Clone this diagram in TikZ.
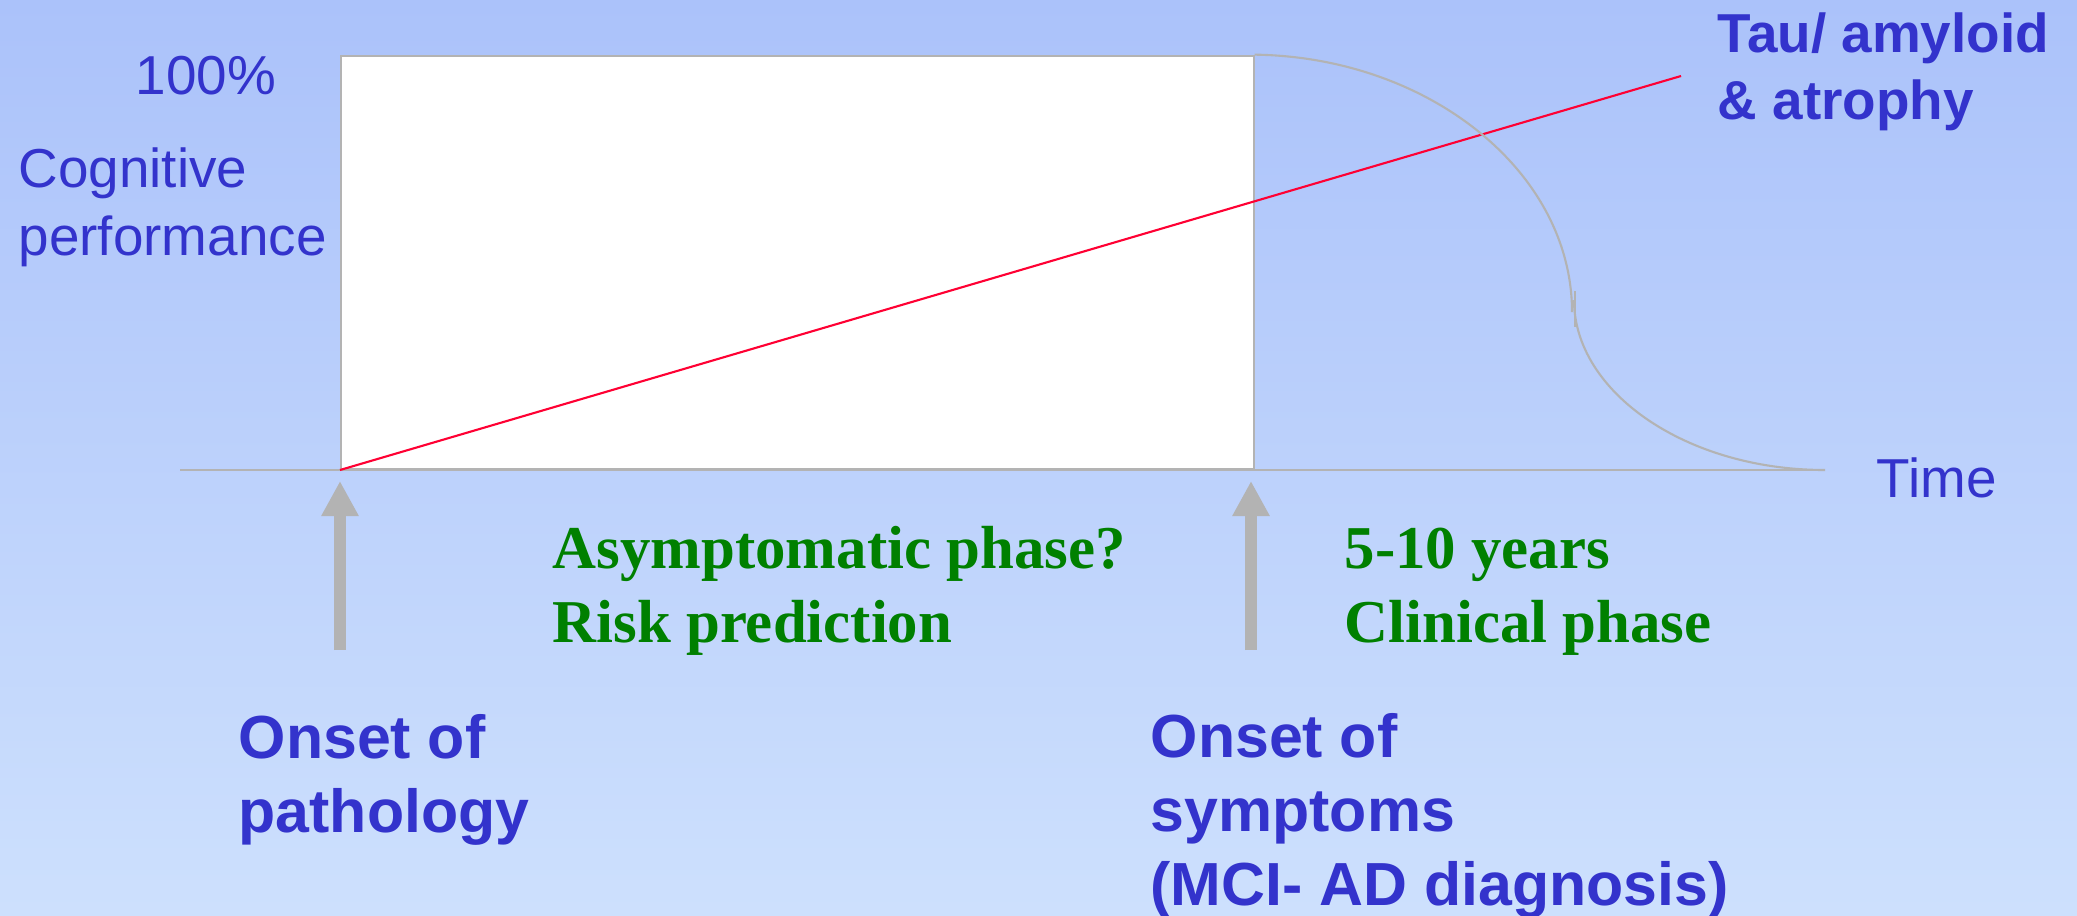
\documentclass[tikz,border=0pt]{standalone}
\usepackage{fontspec}
\setmainfont{Liberation Sans}
\newfontfamily\timesfont{Liberation Serif}
\usetikzlibrary{arrows.meta}
\definecolor{txtblue}{RGB}{51,51,204}
\definecolor{txtgreen}{RGB}{0,128,0}
\definecolor{linegray}{RGB}{179,179,179}
\definecolor{bgtop}{RGB}{171,194,250}
\definecolor{bgbot}{RGB}{205,224,253}
\definecolor{redline}{RGB}{255,0,51}
\tikzset{
  axislbl/.style={text=txtblue, inner sep=0pt, anchor=base west, align=left, font=\fontsize{15.6}{19.2}\selectfont},
  toplbl/.style={text=txtblue, inner sep=0pt, anchor=base west, align=left, font=\fontsize{15.6}{18.8}\selectfont\bfseries},
  tag/.style={text=txtblue, inner sep=0pt, anchor=base west, align=left, font=\fontsize{17.3}{21}\selectfont\bfseries},
  phase/.style={text=txtgreen, inner sep=0pt, anchor=base west, align=left, font=\fontsize{17.3}{21}\selectfont\timesfont\bfseries},
  gline/.style={draw=linegray, line width=0.6pt},
  uparr/.style={draw=linegray, line width=0.12cm, -{Triangle[length=0.35cm, width=0.35cm]}},
}
\begin{document}
\begin{tikzpicture}[x=0.01cm, y=-0.01cm]
  \shade[top color=bgtop, bottom color=bgbot] (0,0) rectangle (2077,915);
  \useasboundingbox (0,0) rectangle (2077,915);
  % axis and plot area
  \coordinate (axL) at (180,470);
  \coordinate (axR) at (1825,470);
  \draw[gline] (axL) -- (axR);
  \node[gline, fill=white, minimum width=9.12cm, minimum height=4.13cm, inner sep=0pt, anchor=south west] (box) at (340,470) {};
  \coordinate (tauEnd) at (1681,76);
  \draw[draw=redline, line width=0.6pt] (box.south west) -- (tauEnd);
  % cognitive decline curve
  \coordinate (bendA) at (1572,312);
  \coordinate (bendB) at (1574,300);
  \coordinate (tickT) at (1575,291);
  \coordinate (tickB) at (1575,327);
  \draw[gline] (box.north east) .. controls (1429,57) and (1572,172) .. (bendA);
  \draw[gline] (bendB) .. controls (1574,392) and (1686,470) .. (axR);
  \draw[gline, line width=0.8pt] (tickT) -- (tickB);
  % onset arrows
  \coordinate (tipP) at (340,481);
  \coordinate (tailP) at (340,650);
  \coordinate (tipS) at (1251,481);
  \coordinate (tailS) at (1251,650);
  \draw[uparr] (tailP) -- (tipP);
  \draw[uparr] (tailS) -- (tipS);
  % labels (multi-line nodes sit on their last baseline)
  \node[axislbl] (pct) at (135,94) {100\%};
  \node[axislbl] (cog) at (18,255) {Cognitive\\performance};
  \node[axislbl] (time) at (1876,497) {Time};
  \node[toplbl] (tau) at (1717,119) {Tau/ amyloid\\\& atrophy};
  \node[phase] (asym) at (552,642) {Asymptomatic phase?\\Risk prediction};
  \node[phase] (clin) at (1344,642) {5-10 years\\Clinical phase};
  \node[tag] (onsetP) at (238,832) {Onset of\\pathology};
  \node[tag] (onsetS) at (1150,905) {Onset of\\symptoms\\(MCI- AD diagnosis)};
\end{tikzpicture}
\end{document}
